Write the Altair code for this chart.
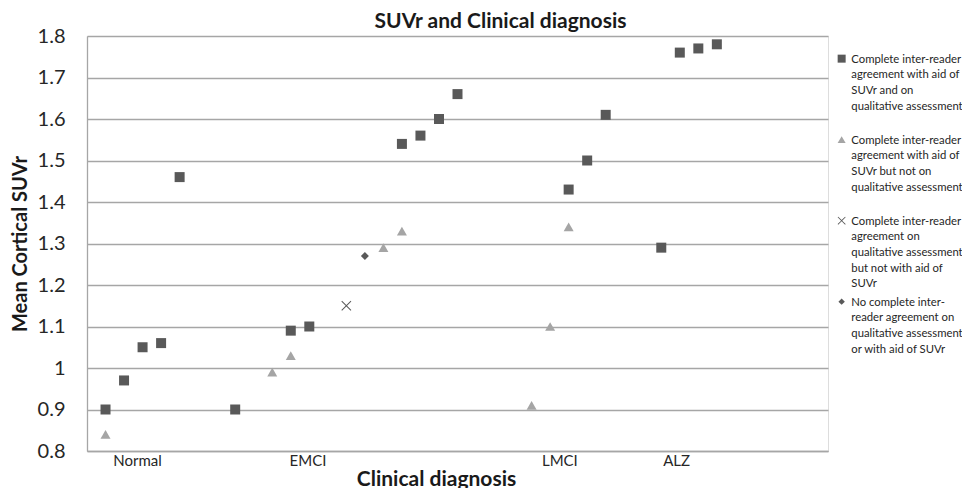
import altair as alt
import pandas as pd

# ---- data ----
series_names = ["A", "B", "C", "D"]

sq_x = [1, 2, 3, 4, 5, 8, 11, 12, 17, 18, 19, 20, 26, 27, 28, 31, 32, 33, 34]
sq_y = [0.90, 0.97, 1.05, 1.06, 1.46, 0.90, 1.09, 1.10, 1.54, 1.56, 1.60, 1.66,
        1.43, 1.50, 1.61, 1.29, 1.76, 1.77, 1.78]

tri_x = [1, 10, 11, 16, 17, 24, 25, 26]
tri_y = [0.84, 0.99, 1.03, 1.29, 1.33, 0.91, 1.10, 1.34]

x_x = [14]
x_y = [1.15]

dia_x = [15]
dia_y = [1.27]

legend_lines = {
    "A": ["Complete inter-reader", "agreement with aid of", "SUVr and on", "qualitative assessment"],
    "B": ["Complete inter-reader", "agreement with aid of", "SUVr but not on", "qualitative assessment"],
    "C": ["Complete inter-reader", "agreement on", "qualitative assessment", "but not with aid of", "SUVr"],
    "D": ["No complete inter-", "reader agreement on", "qualitative assessment", "or with aid of SUVr"],
}

cat_labels = ["Normal", "EMCI", "LMCI", "ALZ"]
cat_pos = [2.7, 11.9, 25.5, 31.8]
y_ticks = [0.8, 0.9, 1.0, 1.1, 1.2, 1.3, 1.4, 1.5, 1.6, 1.7, 1.8]

# ---- build table ----
rows = []
for name, xs, ys in zip(series_names, [sq_x, tri_x, x_x, dia_x], [sq_y, tri_y, x_y, dia_y]):
    for a, b in zip(xs, ys):
        rows.append({"x": a, "y": b, "series": name})
df = pd.DataFrame(rows)

colors = ["#595959", "#a5a5a5", "#595959", "#595959"]
x_path = ("M-1,-0.86L-0.86,-1L0,-0.14L0.86,-1L1,-0.86L0.14,0L1,0.86L0.86,1"
          "L0,0.14L-0.86,1L-1,0.86L-0.14,0Z")
dia_path = "M0,-0.8L0.8,0L0,0.8L-0.8,0Z"
shapes = ["square", "triangle-up", x_path, dia_path]

FONT = "Lato"
GRID = "#a6a6a6"
LABEL_DY = -5  # shared guide-label vertical shift (compensated on the axes)

def js_list(lst):
    return "[" + ",".join("'" + s.replace("'", "\\'") + "'" for s in lst) + "]"

leg_expr = ""
for k in series_names[:-1]:
    leg_expr += f"datum.label == '{k}' ? {js_list(legend_lines[k])} : "
leg_expr += js_list(legend_lines[series_names[-1]])

x_label_expr = f"{js_list(cat_labels)}[indexof({cat_pos}, datum.value)]"

legend = alt.Legend(
    title=None, orient="none", legendX=749, legendY=17,
    labelExpr=leg_expr, labelFont=FONT, labelFontSize=11.3, labelColor="#262626",
    labelBaseline="top", labelLimit=300, labelOffset=4, symbolSize=64,
    rowPadding=6, gridAlign="all",
)

chart = alt.Chart(df).mark_point(filled=True, opacity=1, size=100).encode(
    x=alt.X("x:Q", scale=alt.Scale(domain=[0, 40], nice=False, zero=False),
            axis=alt.Axis(values=cat_pos, labelExpr=x_label_expr, grid=False, ticks=False,
                          domain=True, domainColor=GRID, domainWidth=1.3,
                          labelFont=FONT, labelFontSize=15, labelColor="#262626",
                          labelPadding=2 - LABEL_DY, labelBaseline="top",
                          title="Clinical diagnosis", titleFont=FONT, titleFontSize=21,
                          titleFontWeight="bold", titleColor="#1a1a1a",
                          titleX=349, titleAnchor="middle", titlePadding=0)),
    y=alt.Y("y:Q", scale=alt.Scale(domain=[0.8, 1.8], nice=False, zero=False),
            axis=alt.Axis(values=y_ticks, format="~g", grid=True, gridColor=GRID, gridWidth=1.3,
                          ticks=False, domain=True, domainColor=GRID, domainWidth=1.3,
                          labelFont=FONT, labelFontSize=20, labelColor="#262626",
                          labelPadding=22, labelOffset=-LABEL_DY,
                          title="Mean Cortical SUVr", titleFont=FONT, titleFontSize=20,
                          titleFontWeight="bold", titleColor="#1a1a1a", titlePadding=7)),
    color=alt.Color("series:N", scale=alt.Scale(domain=series_names, range=colors), legend=legend),
    shape=alt.Shape("series:N", scale=alt.Scale(domain=series_names, range=shapes), legend=legend),
).properties(
    width=741, height=415,
    title=alt.Title("SUVr and Clinical diagnosis", font=FONT, fontSize=21, fontWeight="bold",
                    color="#1a1a1a", anchor="middle", frame="group", dx=43, offset=-6),
    autosize=alt.AutoSizeParams(type="none"),
    padding={"left": 79, "top": 28, "right": 134, "bottom": 37},
).configure_view(stroke=None).configure(
    style={"guide-label": {"lineHeight": 15.7, "dy": LABEL_DY}}
)

chart.save("out.html", embed_options={"renderer": "svg", "actions": False})
